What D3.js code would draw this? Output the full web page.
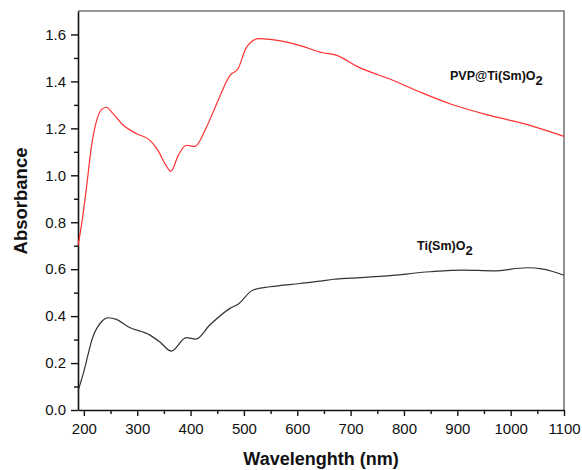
<!DOCTYPE html>
<html>
<head>
<meta charset="utf-8">
<script src="https://cdn.jsdelivr.net/npm/d3@7/dist/d3.min.js"></script>
<style>
body { margin: 0; background: #fff; }
svg { display: block; font-family: "Liberation Sans", Arial, sans-serif; }
</style>
</head>
<body>
<svg id="chart" width="582" height="470"></svg>
<script>
// Data
const pvpWavelength = [189, 197, 205, 214, 224, 233, 242, 255, 274, 299, 324, 339, 352, 363, 377, 392, 408, 430, 449, 474, 489, 505, 527, 549, 599, 648, 674, 711, 780, 830, 886, 961, 1036, 1100];
const pvpAbsorbance = [0.70, 0.81, 0.95, 1.12, 1.234, 1.28, 1.29, 1.262, 1.213, 1.177, 1.149, 1.106, 1.05, 1.017, 1.085, 1.128, 1.123, 1.206, 1.305, 1.426, 1.454, 1.546, 1.582, 1.579, 1.557, 1.522, 1.511, 1.465, 1.404, 1.355, 1.305, 1.255, 1.213, 1.166];

const tiWavelength = [189, 199, 217, 233, 246, 261, 283, 324, 342, 364, 392, 410, 436, 474, 489, 517, 549, 605, 643, 668, 700, 761, 849, 911, 967, 1030, 1061, 1100];
const tiAbsorbance = [0.08, 0.156, 0.312, 0.376, 0.393, 0.386, 0.355, 0.319, 0.291, 0.251, 0.308, 0.302, 0.362, 0.433, 0.451, 0.511, 0.525, 0.539, 0.549, 0.557, 0.562, 0.570, 0.589, 0.596, 0.593, 0.606, 0.600, 0.574];

const xMajorTicks = [200, 300, 400, 500, 600, 700, 800, 900, 1000, 1100];
const xMinorTicks = [250, 350, 450, 550, 650, 750, 850, 950, 1050];
const yMajorTicks = [0.0, 0.2, 0.4, 0.6, 0.8, 1.0, 1.2, 1.4, 1.6];
const yMinorTicks = [0.1, 0.3, 0.5, 0.7, 0.9, 1.1, 1.3, 1.5];

const seriesNames = ["PVP@Ti(Sm)O", "Ti(Sm)O"];
const xTitle = "Wavelenghth (nm)";
const yTitle = "Absorbance";

const svg = d3.select("#chart");
const mLeft = 78, mRight = 564, mTop = 11, mBottom = 410;

const x = d3.scaleLinear().domain([189, 1100]).range([mLeft, mRight]);
const y = d3.scaleLinear().domain([0, 1.7]).range([mBottom, mTop]);

// frame (top and right)
svg.append("path")
  .attr("d", `M${mLeft},${mTop}H${mRight}V${mBottom}`)
  .attr("fill", "none").attr("stroke", "#777").attr("stroke-width", 1.6);

// x axis
const gx = svg.append("g").attr("transform", `translate(0,${mBottom})`);
gx.call(d3.axisBottom(x).tickValues(xMinorTicks).tickSize(4).tickFormat(""));
gx.call(g => g.selectAll(".domain").remove());
const gx2 = svg.append("g").attr("transform", `translate(0,${mBottom})`);
gx2.call(d3.axisBottom(x).tickValues(xMajorTicks).tickSize(6).tickSizeOuter(0).tickPadding(7).tickFormat(d3.format("d")));

// y axis
const gy = svg.append("g").attr("transform", `translate(${mLeft},0)`);
gy.call(d3.axisLeft(y).tickValues(yMinorTicks).tickSize(4).tickFormat(""));
gy.call(g => g.selectAll(".domain").remove());
const gy2 = svg.append("g").attr("transform", `translate(${mLeft},0)`);
gy2.call(d3.axisLeft(y).tickValues(yMajorTicks).tickSize(7).tickSizeOuter(0).tickPadding(5).tickFormat(d3.format(".1f")));

svg.selectAll("g line").attr("stroke", "#111").attr("stroke-width", 1.4);
svg.selectAll("g .domain").attr("stroke", "#111").attr("stroke-width", 1.6);
svg.selectAll("g text").attr("font-size", 15).attr("fill", "#111").attr("font-family", "Liberation Sans, Arial, sans-serif");

// lines
const line = d3.line().x(d => x(d[0])).y(d => y(d[1])).curve(d3.curveMonotoneX);
svg.append("path")
  .datum(d3.zip(pvpWavelength, pvpAbsorbance))
  .attr("d", line).attr("fill", "none").attr("stroke", "#ff3030").attr("stroke-width", 1.2);
svg.append("path")
  .datum(d3.zip(tiWavelength, tiAbsorbance))
  .attr("d", line).attr("fill", "none").attr("stroke", "#333").attr("stroke-width", 1.2);

// series labels
function label(xp, yp, name) {
  const t = svg.append("text").attr("x", xp).attr("y", yp)
    .attr("font-size", 12.5).attr("font-weight", "bold").attr("fill", "#111");
  t.append("tspan").text(name);
  t.append("tspan").attr("dy", 5).attr("font-size", 13).text("2");
}
label(450, 80, seriesNames[0]);
label(417, 250, seriesNames[1]);

// axis titles
svg.append("text").attr("x", 321).attr("y", 465)
  .attr("text-anchor", "middle").attr("font-size", 18).attr("font-weight", "bold").attr("fill", "#111")
  .text(xTitle);
svg.append("text").attr("transform", "translate(27,201) rotate(-90)")
  .attr("text-anchor", "middle").attr("font-size", 18.5).attr("font-weight", "bold").attr("fill", "#111")
  .text(yTitle);
</script>
</body>
</html>
